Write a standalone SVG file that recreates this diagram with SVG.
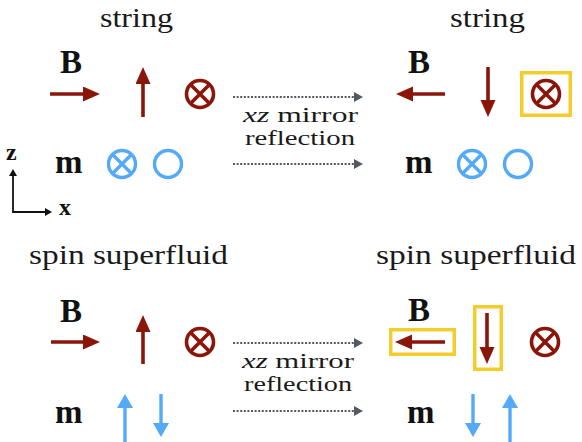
<svg xmlns="http://www.w3.org/2000/svg" width="582" height="442" viewBox="0 0 582 442">
<style>
.t{font-family:"Liberation Serif",serif;font-size:27px;fill:#1a1a1a}
.mid{font-family:"Liberation Serif",serif;font-size:21px;fill:#1a1a1a}
.b{font-family:"Liberation Serif",serif;font-size:33px;font-weight:bold;fill:#111}
.ax{font-family:"Liberation Serif",serif;font-size:24px;font-weight:bold;fill:#111}
.it{font-style:italic}
.red{stroke:#8a1609;stroke-width:3.6;fill:none}
.blue{stroke:#55aaf8;stroke-width:3.4;fill:none}
.dot{stroke:#555a62;stroke-width:2.2;stroke-dasharray:2 1.6;fill:none}
.blk{stroke:#111;stroke-width:1.8;fill:none}
.ybox{stroke:#f4cd2c;stroke-width:3.5;fill:none}
</style>
<defs>
<marker id="hr" markerUnits="userSpaceOnUse" markerWidth="18" markerHeight="16" refX="1" refY="7.5" orient="auto"><path d="M0,0 L17,7.5 L0,15 z" fill="#8a1609"/></marker>
<marker id="hb" markerUnits="userSpaceOnUse" markerWidth="15" markerHeight="17" refX="1" refY="8" orient="auto"><path d="M0,0 L14,8 L0,16 z" fill="#55aaf8"/></marker>
<marker id="hg" markerUnits="userSpaceOnUse" markerWidth="10" markerHeight="11" refX="1" refY="5" orient="auto"><path d="M0,0 L9,5 L0,10 z" fill="#555a62"/></marker>
<marker id="hk" markerUnits="userSpaceOnUse" markerWidth="8" markerHeight="9" refX="1" refY="4" orient="auto"><path d="M0,0 L7,4 L0,8 z" fill="#111"/></marker>
<g id="otr"><circle cx="0" cy="0" r="13.5" class="red"/><path d="M-9.5,-9.5 L9.5,9.5 M9.5,-9.5 L-9.5,9.5" class="red" stroke-width="3.2"/></g>
<g id="otb"><circle cx="0" cy="0" r="13.5" class="blue"/><path d="M-9.5,-9.5 L9.5,9.5 M9.5,-9.5 L-9.5,9.5" class="blue" stroke-width="3.1"/></g>
</defs>

<g id="connectors">
<line x1="233" y1="97" x2="355" y2="97" class="dot" marker-end="url(#hg)"/>
<line x1="233" y1="164" x2="355" y2="164" class="dot" marker-end="url(#hg)"/>
<line x1="233" y1="343" x2="355" y2="343" class="dot" marker-end="url(#hg)"/>
<line x1="233" y1="411" x2="355" y2="411" class="dot" marker-end="url(#hg)"/>
</g>

<g id="labels-mid">
<text class="mid" x="243" y="122" textLength="115" lengthAdjust="spacingAndGlyphs"><tspan class="it">xz</tspan> mirror</text>
<text class="mid" x="245" y="145" textLength="110" lengthAdjust="spacingAndGlyphs">reflection</text>
<text class="mid" x="242" y="368" textLength="112" lengthAdjust="spacingAndGlyphs"><tspan class="it">xz</tspan> mirror</text>
<text class="mid" x="244" y="391" textLength="108" lengthAdjust="spacingAndGlyphs">reflection</text>
</g>

<g id="axes">
<line x1="13" y1="212" x2="13" y2="175" class="blk" marker-end="url(#hk)"/>
<line x1="12.1" y1="212" x2="46" y2="212" class="blk" marker-end="url(#hk)"/>
<text class="ax" x="6" y="160">z</text>
<text class="ax" x="59" y="215">x</text>
</g>

<g id="string-left">
<text class="t" x="100" y="27" textLength="73" lengthAdjust="spacingAndGlyphs">string</text>
<text class="b" x="60" y="73">B</text>
<line x1="50" y1="94" x2="84" y2="94" class="red" marker-end="url(#hr)"/>
<line x1="143" y1="117" x2="143" y2="83" class="red" marker-end="url(#hr)"/>
<use href="#otr" x="200" y="94"/>
<text class="b" x="55" y="173">m</text>
<use href="#otb" x="122" y="164"/>
<circle cx="168" cy="164" r="13.5" class="blue"/>
</g>

<g id="string-right">
<text class="t" x="450" y="27" textLength="75" lengthAdjust="spacingAndGlyphs">string</text>
<text class="b" x="408" y="73">B</text>
<line x1="445" y1="94" x2="412" y2="94" class="red" marker-end="url(#hr)"/>
<line x1="488" y1="67" x2="488" y2="101" class="red" marker-end="url(#hr)"/>
<rect x="521.75" y="72.75" width="48.5" height="42.5" class="ybox"/>
<use href="#otr" x="546" y="94"/>
<text class="b" x="405" y="173">m</text>
<use href="#otb" x="472" y="164"/>
<circle cx="518" cy="164" r="13.5" class="blue"/>
</g>

<g id="superfluid-left">
<text class="t" x="29" y="264" textLength="199" lengthAdjust="spacingAndGlyphs">spin superfluid</text>
<text class="b" x="60" y="322">B</text>
<line x1="51" y1="342" x2="84" y2="342" class="red" marker-end="url(#hr)"/>
<line x1="143" y1="364" x2="143" y2="331" class="red" marker-end="url(#hr)"/>
<use href="#otr" x="200" y="342"/>
<text class="b" x="55" y="423">m</text>
<line x1="125" y1="442" x2="125" y2="407" class="blue" marker-end="url(#hb)"/>
<line x1="161" y1="394" x2="161" y2="424" class="blue" marker-end="url(#hb)"/>
</g>

<g id="superfluid-right">
<text class="t" x="376" y="264" textLength="200" lengthAdjust="spacingAndGlyphs">spin superfluid</text>
<text class="b" x="408" y="321">B</text>
<rect x="390.75" y="329.75" width="63.5" height="24.5" class="ybox"/>
<line x1="445" y1="342" x2="411" y2="342" class="red" marker-end="url(#hr)"/>
<rect x="474.75" y="306.75" width="26.5" height="62.5" class="ybox"/>
<line x1="487" y1="313" x2="487" y2="348" class="red" marker-end="url(#hr)"/>
<use href="#otr" x="545" y="342"/>
<text class="b" x="407" y="423">m</text>
<line x1="473" y1="394" x2="473" y2="424" class="blue" marker-end="url(#hb)"/>
<line x1="510" y1="442" x2="510" y2="407" class="blue" marker-end="url(#hb)"/>
</g>
</svg>
